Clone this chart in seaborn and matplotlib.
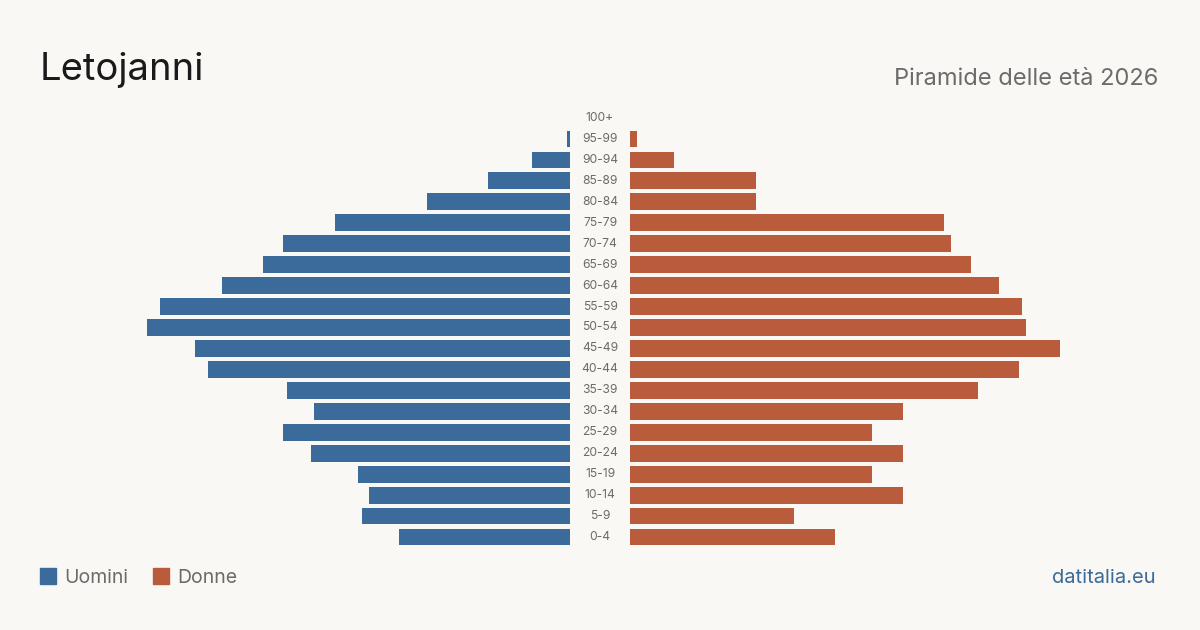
import numpy as np
import pandas as pd
import seaborn as sns
import matplotlib.pyplot as plt

# age classes, top to bottom
age_groups = ["100+", "95-99", "90-94", "85-89", "80-84", "75-79", "70-74", "65-69",
              "60-64", "55-59", "50-54", "45-49", "40-44", "35-39", "30-34", "25-29",
              "20-24", "15-19", "10-14", "5-9", "0-4"]
men = [0, 1, 11, 24, 42, 69, 84, 90, 102, 120, 124, 110, 106, 83, 75, 84, 76, 62, 59, 61, 50]
women = [0, 2, 13, 37, 37, 92, 94, 100, 108, 115, 116, 126, 114, 102, 80, 71, 80, 71, 80, 48, 60]

title = "Letojanni"
subtitle = "Piramide delle età 2026"
source = "datitalia.eu"

BG = "#f9f8f4"
BLUE = "#3a6b9a"
ORANGE = "#b85c3c"
GRAY = "#6b6b6b"

sns.set_theme(style="white")
plt.rcParams['font.family'] = ['Inter', 'DejaVu Sans']

df = pd.DataFrame({"age": age_groups, "men": men, "women": women})

W, H = 1200, 630
fig = plt.figure(figsize=(12, 6.3), dpi=100, facecolor=BG)

xmax = max(women) * 1.0
axw = 430 / W
bottom = (H - 547.5) / H
height = 440 / H
ax_l = fig.add_axes([140 / W, bottom, axw, height])
ax_r = fig.add_axes([630 / W, bottom, axw, height])

sns.barplot(data=df, y="age", x="men", orient="h", color=BLUE, width=0.8,
            saturation=1, linewidth=0, ax=ax_l)
sns.barplot(data=df, y="age", x="women", orient="h", color=ORANGE, width=0.8,
            saturation=1, linewidth=0, ax=ax_r)

ax_l.set_xlim(xmax, 0)
ax_r.set_xlim(0, xmax)
for ax in (ax_l, ax_r):
    ax.set_facecolor(BG)
    ax.set_ylim(len(age_groups) - 0.5, -0.5)
    ax.set_xlabel("")
    ax.set_ylabel("")
    ax.set_xticks([])
    ax.set_yticks([])
    for s in ax.spines.values():
        s.set_visible(False)

# age labels in the middle gap
for i, lab in enumerate(age_groups):
    ax_r.text(-30 / 430 * xmax, i, lab, ha="center", va="center",
              fontsize=8.7, color=GRAY, clip_on=False)

fig.text(40 / W, 1 - 80 / H, title, fontsize=27.5, color="#1a1a1a",
         ha="left", va="baseline")
fig.text(1158 / W, 1 - 85 / H, subtitle, fontsize=17, color=GRAY,
         ha="right", va="baseline")

# legend
for x0, col, lab in [(40, BLUE, "Uomini"), (153, ORANGE, "Donne")]:
    fig.patches.append(plt.Rectangle((x0 / W, 1 - 584 / H), 16 / W, 16 / H,
                                     transform=fig.transFigure, color=col))
    fig.text((x0 + 24) / W, 1 - 583 / H, lab, fontsize=14, color=GRAY,
             ha="left", va="baseline")

fig.text(1156 / W, 1 - 583 / H, source, fontsize=14.5, color=BLUE,
         ha="right", va="baseline")

fig.savefig("out.png", dpi=100, facecolor=BG)
